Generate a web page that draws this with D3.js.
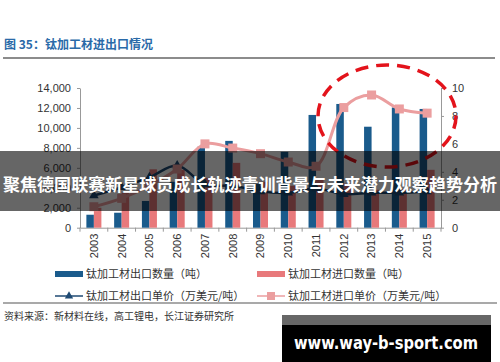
<!DOCTYPE html>
<html>
<head>
<meta charset="utf-8">
<script src="https://cdn.jsdelivr.net/npm/d3@7"></script>
<style>
  body { margin: 0; background: #fff; }
  svg { display: block; }
</style>
</head>
<body>
<svg id="chart"></svg>
<script>
// data
var years = ["2003", "2004", "2005", "2006", "2007", "2008", "2009", "2010", "2011", "2012", "2013", "2014", "2015"];
var exportQty = [1300, 1500, 2680, 4600, 8120, 8700, 4400, 7600, 11300, 12400, 10120, 12050, 11900];
var importQty = [2000, 3500, 5850, 5800, 5000, 6500, 4600, 4200, 4900, 4400, 3800, 3900, 5800];
var exportPrice = [2.3, 2.9, 3.6, 4.45, 3.1, 3.0, 2.6, 2.5, 2.8, 2.4, 2.5, 2.5, 2.6];
var importPrice = [1.5, 2.1, 3.0, 4.2, 6.0, 5.7, 5.3, 4.7, 4.4, 8.6, 9.5, 8.5, 8.2];
var leftTicks = [0, 2000, 4000, 6000, 8000, 10000, 12000, 14000];
var rightTicks = [0, 2, 4, 6, 8, 10];
var legendNames = ["钛加工材出口数量（吨）", "钛加工材进口数量（吨）", "钛加工材出口单价（万美元/吨）", "钛加工材进口单价（万美元/吨）"];
var titleText = "图 35：钛加工材进出口情况";
var sourceText = "资料来源：新材料在线，高工锂电，长江证券研究所";
var bannerText = "聚焦德国联赛新星球员成长轨迹青训背景与未来潜力观察趋势分析";
var siteText = "www.way-b-sport.com";

var width = 500, height = 362;
var blue = "#1a5b8c", salmon = "#e8797b", navy = "#1f4a73", pink = "#eb9e9f";
var cjk = "'Noto Sans CJK SC', sans-serif";
var latin = "'Liberation Sans', Arial, sans-serif";

var svg = d3.select("#chart")
    .attr("width", width)
    .attr("height", height);

var x = d3.scaleBand().domain(years).range([80, 441]);
var xSub = d3.scaleBand().domain(["export", "import"]).range([0, x.bandwidth()]).paddingOuter(0.85);
var yL = d3.scaleLinear().domain([0, 14000]).range([227.7, 88]);
var yR = d3.scaleLinear().domain([0, 10]).range([227.7, 88]);

// title + rule
svg.append("text").attr("x", 4).attr("y", 49).text(titleText)
    .style("font-family", cjk).style("font-size", "12px").style("font-weight", "bold")
    .style("fill", "#2a6aa8");
svg.append("line").attr("x1", 3).attr("x2", 495).attr("y1", 58).attr("y2", 58)
    .style("stroke", "#666").style("stroke-width", 1.5);

// axes
var leftAxis = svg.append("g").attr("transform", "translate(80,0)")
    .call(d3.axisLeft(yL).tickValues(leftTicks).tickFormat(d3.format(",")).tickSize(3).tickSizeOuter(0));
var rightAxis = svg.append("g").attr("transform", "translate(441,0)")
    .call(d3.axisRight(yR).tickValues(rightTicks).tickSize(3).tickSizeOuter(0));
var bottomAxis = svg.append("g").attr("transform", "translate(0," + yL(0) + ")")
    .call(d3.axisBottom(x).tickSize(0).tickSizeOuter(0));

[leftAxis, rightAxis, bottomAxis].forEach(function(a) {
    a.selectAll("path, line").style("stroke", "#999");
    a.selectAll("text").style("font-family", latin).style("font-size", "11px").style("fill", "#333");
});
leftAxis.selectAll("text").attr("x", -9);
rightAxis.selectAll("text").attr("x", 11);
bottomAxis.selectAll("text")
    .attr("transform", "rotate(-90)")
    .attr("x", -6).attr("y", 0).attr("dy", "0.35em")
    .style("text-anchor", "end");

// tick marks between the years
bottomAxis.selectAll(".sep")
    .data(years.concat(["end"]))
    .enter().append("line")
    .attr("class", "sep")
    .attr("x1", function(d, i) { return i < years.length ? x(d) : x(years[years.length - 1]) + x.bandwidth(); })
    .attr("x2", function(d, i) { return i < years.length ? x(d) : x(years[years.length - 1]) + x.bandwidth(); })
    .attr("y1", 0).attr("y2", 4)
    .style("stroke", "#999");

// bars
var groups = svg.append("g").selectAll("g")
    .data(years)
    .enter().append("g")
    .attr("transform", function(d) { return "translate(" + x(d) + ",0)"; });

groups.append("rect")
    .attr("x", xSub("export"))
    .attr("width", xSub.bandwidth())
    .attr("y", function(d, i) { return yL(exportQty[i]); })
    .attr("height", function(d, i) { return yL(0) - yL(exportQty[i]); })
    .style("fill", blue);

groups.append("rect")
    .attr("x", xSub("import"))
    .attr("width", xSub.bandwidth())
    .attr("y", function(d, i) { return yL(importQty[i]); })
    .attr("height", function(d, i) { return yL(0) - yL(importQty[i]); })
    .style("fill", salmon);

// price lines
var cx = function(d, i) { return x(years[i]) + x.bandwidth() / 2; };
var line = d3.line().x(cx).y(function(d) { return yR(d); }).curve(d3.curveCatmullRom.alpha(0.5));

svg.append("path").datum(exportPrice).attr("d", line)
    .style("fill", "none").style("stroke", navy).style("stroke-width", 2.5);
svg.append("g").selectAll("path")
    .data(exportPrice)
    .enter().append("path")
    .attr("d", d3.symbol().type(d3.symbolTriangle).size(40))
    .attr("transform", function(d, i) { return "translate(" + cx(d, i) + "," + yR(d) + ")"; })
    .style("fill", navy);

svg.append("path").datum(importPrice).attr("d", line)
    .style("fill", "none").style("stroke", pink).style("stroke-width", 3);
svg.append("g").selectAll("rect")
    .data(importPrice)
    .enter().append("rect")
    .attr("x", function(d, i) { return cx(d, i) - 4.5; })
    .attr("y", function(d) { return yR(d) - 4.5; })
    .attr("width", 9).attr("height", 9)
    .style("fill", pink);

// red dashed highlight
svg.append("ellipse")
    .attr("cx", 387).attr("cy", 116).attr("rx", 69).attr("ry", 51)
    .style("fill", "none").style("stroke", "#e3131b").style("stroke-width", 3.5)
    .style("stroke-dasharray", "13,8");

// legend
var legend = svg.append("g");
var legX = [55, 257], legY = [274, 296];
legend.append("rect").attr("x", legX[0]).attr("y", legY[0] - 3).attr("width", 28).attr("height", 6).style("fill", blue);
legend.append("rect").attr("x", legX[1]).attr("y", legY[0] - 3).attr("width", 28).attr("height", 6).style("fill", salmon);
legend.append("line").attr("x1", legX[0]).attr("x2", legX[0] + 28).attr("y1", legY[1]).attr("y2", legY[1])
    .style("stroke", navy).style("stroke-width", 1.5);
legend.append("path").attr("d", d3.symbol().type(d3.symbolTriangle).size(30))
    .attr("transform", "translate(" + (legX[0] + 14) + "," + legY[1] + ")").style("fill", navy);
legend.append("line").attr("x1", legX[1]).attr("x2", legX[1] + 28).attr("y1", legY[1]).attr("y2", legY[1])
    .style("stroke", pink).style("stroke-width", 1.5);
legend.append("rect").attr("x", legX[1] + 10).attr("y", legY[1] - 4).attr("width", 8).attr("height", 8).style("fill", pink);

legend.selectAll("text")
    .data(legendNames)
    .enter().append("text")
    .attr("x", function(d, i) { return legX[i % 2] + 31; })
    .attr("y", function(d, i) { return legY[Math.floor(i / 2)]; })
    .attr("dy", "0.35em")
    .text(function(d) { return d; })
    .style("font-family", cjk).style("font-size", "11px").style("fill", "#333");

// bottom rule + source
svg.append("line").attr("x1", 3).attr("x2", 497).attr("y1", 303).attr("y2", 303)
    .style("stroke", "#555").style("stroke-width", 1.2);
svg.append("text").attr("x", 4).attr("y", 320).text(sourceText)
    .style("font-family", cjk).style("font-size", "10px").style("fill", "#333");

// overlay banner
svg.append("rect").attr("x", 0).attr("y", 151).attr("width", width).attr("height", 60)
    .style("fill", "rgba(0,0,0,0.6)");
svg.append("text").attr("x", width / 2).attr("y", 191).text(bannerText)
    .attr("text-anchor", "middle")
    .attr("textLength", 494).attr("lengthAdjust", "spacingAndGlyphs")
    .style("font-family", cjk).style("font-size", "17px").style("font-weight", "bold").style("fill", "#fff");

// site badge
svg.append("rect").attr("x", 282).attr("y", 315).attr("width", 209).attr("height", 10).style("fill", "#676767");
svg.append("rect").attr("x", 282).attr("y", 325).attr("width", 209).attr("height", 37).style("fill", "#000");
svg.append("text").attr("x", 386).attr("y", 349).text(siteText)
    .attr("text-anchor", "middle")
    .attr("textLength", 184).attr("lengthAdjust", "spacingAndGlyphs")
    .style("font-family", "'DejaVu Sans', sans-serif").style("font-size", "18px").style("font-weight", "bold").style("fill", "#fff");
</script>
</body>
</html>
